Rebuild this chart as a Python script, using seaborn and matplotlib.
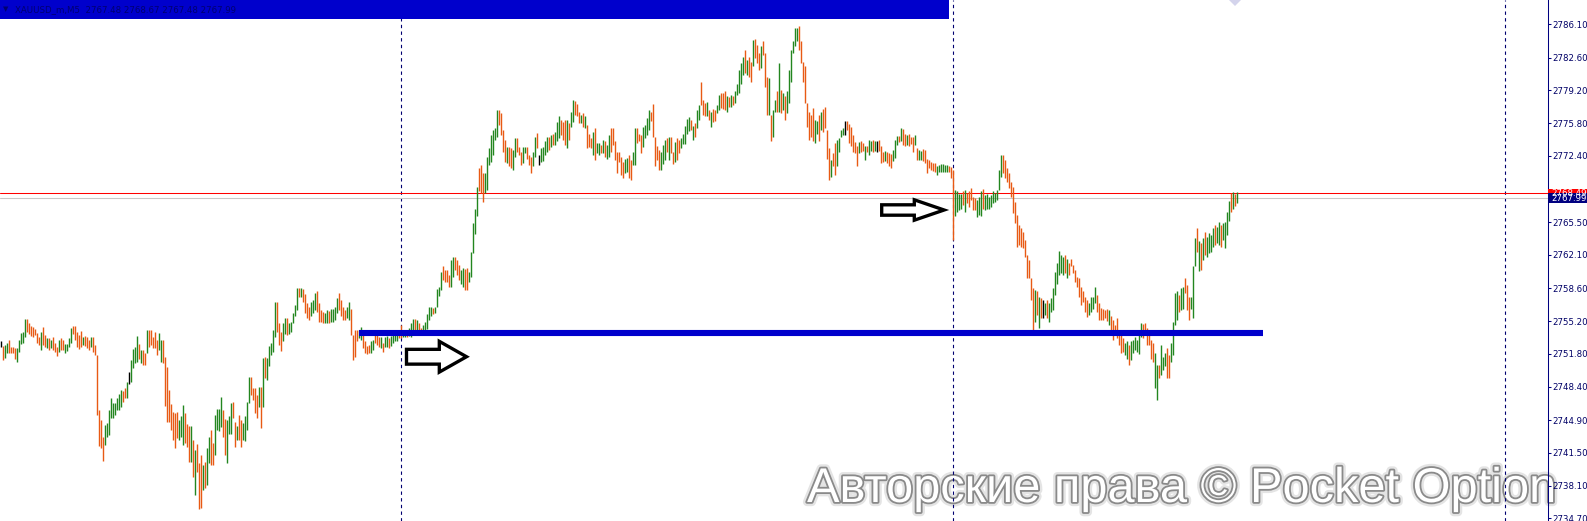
import matplotlib
matplotlib.use("Agg")
import matplotlib.pyplot as plt
import matplotlib.patches as mpatches
import matplotlib.patheffects as pe
import matplotlib.transforms as mtransforms
import numpy as np
import seaborn as sns

# ----------------------
# Chart data: XAUUSD_m, M5 bars (high / low / direction)
# ----------------------
symbol_info = "XAUUSD_m,M5  2767.48 2768.67 2767.48 2767.99"
bid_price = 2767.99
ask_price = 2768.49
support_level = 2753.95
support_from, support_to = 179, 631
separator_bars = [200, 476, 752]

tick_values = [2786.10, 2782.60, 2779.20, 2775.80, 2772.40, 2765.50, 2762.10,
               2758.60, 2755.20, 2751.80, 2748.40, 2744.90, 2741.50, 2738.10, 2734.70]
tick_labels = [f"{v:.2f}" for v in tick_values]

bar_high = [
    2753.1, 2752.6, 2752.7, 2752.9, 2753.2, 2752.5, 2752.5, 2752.4, 2752.4, 2753.2,
    2754.0, 2754.1, 2755.4, 2755.4, 2755.0, 2754.7, 2754.6, 2754.4, 2754.0, 2753.6,
    2754.1, 2754.6, 2753.8, 2753.4, 2753.4, 2753.2, 2753.6, 2752.9, 2752.5, 2753.2,
    2753.4, 2753.2, 2752.8, 2752.8, 2753.5, 2754.5, 2754.7, 2754.7, 2754.1, 2753.8,
    2754.2, 2753.6, 2753.7, 2753.6, 2753.2, 2753.6, 2753.6, 2752.7, 2751.7, 2746.0,
    2744.9, 2743.2, 2744.4, 2744.6, 2746.0, 2747.2, 2746.7, 2746.7, 2747.2, 2747.6,
    2748.0, 2747.9, 2748.2, 2748.9, 2749.9, 2751.2, 2752.3, 2752.5, 2753.7, 2752.8,
    2752.2, 2752.2, 2751.9, 2754.3, 2754.3, 2754.3, 2753.6, 2754.1, 2753.2, 2754.0,
    2753.2, 2753.2, 2751.5, 2750.4, 2748.0, 2746.6, 2745.8, 2745.7, 2745.8, 2744.9,
    2745.3, 2746.5, 2745.7, 2744.5, 2744.3, 2744.3, 2742.8, 2741.8, 2742.4, 2740.5,
    2741.3, 2740.2, 2740.6, 2742.0, 2743.2, 2743.9, 2742.5, 2745.4, 2746.1, 2746.1,
    2747.3, 2746.0, 2745.0, 2744.9, 2745.3, 2746.7, 2746.8, 2744.7, 2744.3, 2745.4,
    2744.9, 2744.6, 2745.3, 2746.8, 2749.4, 2749.4, 2748.3, 2748.2, 2747.5, 2748.4,
    2748.4, 2751.4, 2751.5, 2751.4, 2752.6, 2752.9, 2754.3, 2757.2, 2757.2, 2755.0,
    2754.1, 2755.0, 2755.5, 2755.5, 2755.0, 2755.1, 2756.1, 2756.9, 2758.7, 2758.7,
    2758.6, 2758.5, 2758.0,
    2757.1, 2756.7, 2757.2, 2757.4, 2758.1, 2758.3, 2757.1, 2756.4, 2756.2, 2756.1,
    2756.4, 2756.3, 2756.5, 2756.5, 2756.7, 2757.6, 2758.1, 2757.4, 2756.7, 2756.4,
    2756.7, 2757.2, 2756.5, 2753.8, 2754.3, 2754.3, 2754.3, 2754.6, 2754.3, 2753.1,
    2752.6, 2752.7, 2753.1, 2753.2, 2754.0, 2753.8, 2753.6, 2753.6, 2752.9, 2753.6,
    2753.7, 2753.4, 2753.7, 2753.9, 2754.1, 2754.3, 2754.3, 2754.8, 2754.1, 2754.3,
    2754.3, 2754.5, 2755.0, 2755.4, 2755.4, 2755.3, 2755.0, 2754.5, 2754.8, 2755.1,
    2755.9, 2756.7, 2756.7, 2756.6, 2756.7, 2758.5, 2758.8, 2760.3, 2760.9, 2760.5,
    2760.5, 2760.0, 2761.6, 2761.9, 2761.9, 2761.6, 2761.0, 2760.5, 2760.7, 2760.6,
    2760.7, 2760.3, 2762.4, 2765.4, 2766.9, 2769.2, 2771.1, 2771.4, 2770.6, 2770.6,
    2772.3, 2773.2, 2774.6, 2775.1, 2775.3, 2777.2, 2777.2, 2776.8, 2775.1, 2774.0,
    2773.3, 2773.3, 2773.2, 2773.0, 2774.2, 2774.2, 2773.3, 2772.8, 2773.3, 2773.3,
    2773.3, 2772.5, 2772.3, 2772.8, 2774.4, 2774.8, 2772.5, 2773.2, 2773.3, 2773.9,
    2774.4, 2774.4, 2774.6, 2774.7, 2774.9, 2775.9, 2776.5, 2776.1, 2775.9, 2776.1,
    2776.1, 2775.8, 2777.0, 2778.2, 2778.1, 2777.8, 2777.0, 2776.6, 2776.8, 2776.5,
    2775.6, 2774.7, 2774.2, 2774.9, 2775.3, 2773.7, 2773.7, 2773.5, 2774.0, 2773.9,
    2773.5,
    2774.6, 2775.3, 2775.3, 2773.9, 2772.8, 2772.8, 2772.3, 2771.8, 2772.1, 2772.2,
    2772.5, 2772.0, 2772.8, 2775.3, 2775.3, 2774.7, 2774.6, 2775.4, 2775.6, 2776.3,
    2777.2, 2777.0, 2777.8, 2774.4, 2773.4, 2773.0, 2772.8, 2773.5, 2774.0, 2774.3,
    2774.4, 2774.4, 2772.8, 2773.8, 2774.3, 2774.0, 2774.2, 2774.7, 2775.5, 2776.2,
    2776.4, 2776.1, 2775.5, 2775.8, 2777.2, 2777.7, 2780.1, 2778.2, 2777.9, 2778.0,
    2777.2, 2777.0, 2777.3, 2777.2, 2777.7, 2778.7, 2778.9, 2778.9, 2779.1, 2778.6,
    2778.5, 2778.7, 2778.6, 2779.1, 2779.9, 2781.3, 2782.1, 2782.7, 2783.4, 2782.4,
    2782.7, 2782.2, 2784.4, 2784.5, 2783.9, 2783.1, 2783.8, 2784.3, 2783.1, 2780.6,
    2780.5, 2776.6, 2777.2, 2778.2, 2779.1, 2782.1, 2779.2, 2778.9, 2778.6, 2779.1,
    2781.3, 2783.4, 2784.3, 2785.7, 2785.7, 2785.9, 2784.3, 2782.2, 2781.7, 2777.9,
    2777.0, 2776.6, 2777.4, 2776.1, 2776.0, 2776.6, 2777.0, 2777.3, 2777.5, 2775.1,
    2773.2, 2772.0, 2772.7, 2773.7, 2774.0, 2774.2, 2775.1, 2775.3, 2776.0, 2776.0,
    2775.7, 2775.4, 2774.6, 2773.8, 2773.4, 2773.8, 2773.9, 2773.7, 2773.4, 2773.4,
    2774.0, 2773.9, 2774.0, 2773.9, 2773.9, 2774.0, 2773.4, 2772.8, 2772.9, 2772.8,
    2772.7, 2772.6, 2773.0, 2774.0, 2774.5, 2774.5, 2775.3, 2775.2, 2774.7, 2774.6,
    2774.7, 2774.4, 2774.4, 2774.6,
    2773.2, 2773.0, 2772.9, 2773.1, 2773.0, 2772.1, 2772.0, 2771.8, 2771.6, 2771.6,
    2771.3, 2771.4, 2771.5, 2771.5, 2771.4, 2771.4, 2771.3, 2771.2, 2770.9, 2768.8,
    2768.7, 2768.4, 2768.4, 2768.7, 2768.8, 2768.5, 2768.7, 2769.0, 2768.1, 2768.0,
    2767.8, 2768.1, 2768.7, 2768.9, 2768.3, 2768.4, 2768.1, 2768.3, 2768.7, 2768.5,
    2768.8, 2770.9, 2772.5, 2772.5, 2772.0, 2771.1, 2770.6, 2769.7, 2769.2, 2767.6,
    2766.2, 2765.2, 2764.9, 2764.5, 2763.6, 2762.1, 2761.6, 2759.7, 2758.6, 2758.4,
    2758.3, 2757.7, 2757.6, 2757.4, 2757.1, 2757.4, 2757.1, 2757.6, 2758.7, 2760.3,
    2761.2, 2762.5, 2762.1, 2761.9, 2762.1, 2761.7, 2761.2, 2761.7, 2761.0, 2760.5,
    2759.8, 2759.7, 2758.8, 2758.3, 2757.7, 2757.4, 2757.1, 2757.7, 2757.7, 2758.8,
    2757.9, 2757.1, 2756.6, 2756.5, 2756.4, 2756.5, 2756.4, 2755.7, 2755.3, 2754.8,
    2755.5, 2754.3, 2753.8, 2753.4, 2752.9, 2753.1, 2752.7, 2753.1, 2753.2, 2753.6,
    2753.2, 2753.8, 2755.0, 2754.9, 2755.0, 2754.5, 2753.8, 2753.2, 2752.9, 2751.9,
    2750.6, 2750.6, 2752.7, 2751.5, 2751.9, 2752.4, 2751.7, 2752.9, 2755.1, 2758.1,
    2758.3, 2757.9, 2758.6, 2758.8, 2759.7, 2759.0, 2757.7, 2757.7, 2760.9, 2763.8,
    2764.9, 2763.5, 2763.3, 2763.8, 2764.5, 2764.0, 2764.4, 2764.2, 2764.9, 2765.2,
    2765.0, 2765.5, 2765.2, 2765.4, 2765.5, 2766.6, 2767.7, 2768.5, 2768.6, 2768.4,
    2768.67,
]

bar_low = [
    2752.5, 2751.2, 2751.4, 2751.9, 2751.9, 2751.9, 2751.9, 2751.3, 2751.0, 2752.0,
    2752.8, 2752.9, 2753.6, 2754.1, 2753.9, 2753.7, 2753.6, 2753.8, 2752.9, 2752.7,
    2752.2, 2752.7, 2752.5, 2752.4, 2752.2, 2752.4, 2752.2, 2752.0, 2751.6, 2752.0,
    2752.2, 2752.2, 2751.9, 2752.1, 2752.5, 2752.9, 2753.9, 2753.2, 2752.5, 2752.3,
    2752.5, 2752.7, 2752.6, 2752.4, 2752.2, 2752.5, 2752.0, 2751.7, 2745.4, 2742.2,
    2742.0, 2740.7, 2742.3, 2743.2, 2743.4, 2745.1, 2745.1, 2745.4, 2746.0, 2746.0,
    2746.3, 2746.8, 2747.2, 2747.2, 2748.7, 2748.9, 2750.3, 2750.8, 2751.0, 2751.3,
    2750.9, 2750.6, 2750.6, 2751.9, 2752.5, 2752.7, 2752.4, 2752.4, 2751.7, 2752.2,
    2751.0, 2750.8, 2746.4, 2744.7, 2744.7, 2743.9, 2742.8, 2742.0, 2743.0, 2742.8,
    2743.2, 2742.3, 2742.5, 2742.1, 2740.6, 2740.6, 2739.0, 2737.1, 2739.5, 2735.7,
    2735.8, 2737.6, 2737.9, 2738.2, 2740.5, 2740.2, 2740.2, 2741.3, 2743.9, 2743.8,
    2744.2, 2743.2, 2741.3, 2740.4, 2743.5, 2743.5, 2745.1, 2742.1, 2742.8, 2742.8,
    2742.1, 2742.8, 2742.7, 2743.9, 2746.7, 2747.5, 2747.0, 2745.6, 2745.1, 2746.3,
    2744.1, 2746.3, 2749.3, 2749.1, 2750.5, 2751.7, 2752.0, 2753.6, 2754.1, 2752.7,
    2752.1, 2753.1, 2753.9, 2753.8, 2753.9, 2754.1, 2755.0, 2755.7, 2756.4, 2757.7,
    2757.7, 2757.2, 2756.0,
    2755.5, 2755.3, 2755.7, 2756.0, 2756.4, 2756.2, 2755.1, 2755.1, 2755.0, 2755.0,
    2755.0, 2755.0, 2755.1, 2755.1, 2755.3, 2756.0, 2756.4, 2755.7, 2755.3, 2755.3,
    2755.5, 2755.3, 2753.8, 2751.2, 2751.5, 2753.1, 2753.4, 2753.2, 2752.4, 2751.9,
    2751.8, 2751.9, 2751.9, 2752.2, 2752.9, 2752.7, 2752.5, 2752.4, 2752.0, 2752.5,
    2752.5, 2752.4, 2752.6, 2752.9, 2753.1, 2753.1, 2753.4, 2753.4, 2753.6, 2753.6,
    2753.6, 2753.7, 2753.6, 2754.1, 2754.3, 2754.1, 2753.8, 2753.9, 2754.1, 2754.1,
    2754.4, 2755.3, 2755.7, 2755.9, 2756.0, 2756.7, 2757.8, 2758.4, 2759.5, 2759.3,
    2759.3, 2758.8, 2758.8, 2759.8, 2760.5, 2760.0, 2759.5, 2759.1, 2758.8, 2758.4,
    2758.4, 2759.3, 2759.8, 2762.3, 2764.3, 2766.1, 2768.7, 2768.5, 2767.6, 2768.5,
    2768.8, 2771.4, 2771.8, 2772.5, 2774.0, 2774.4, 2775.6, 2774.6, 2772.8, 2771.8,
    2771.6, 2771.3, 2771.1, 2770.9, 2772.3, 2772.8, 2772.5, 2771.4, 2771.6, 2772.7,
    2772.1, 2771.4, 2770.6, 2771.3, 2772.3, 2773.2, 2771.4, 2771.8, 2771.9, 2772.5,
    2772.8, 2773.0, 2773.3, 2773.5, 2773.5, 2773.9, 2774.2, 2774.6, 2774.0, 2773.5,
    2773.2, 2774.0, 2775.4, 2775.9, 2776.6, 2776.5, 2775.8, 2775.8, 2775.4, 2775.3,
    2773.2, 2773.3, 2773.2, 2772.5, 2772.0, 2772.7, 2772.5, 2772.7, 2772.7, 2772.3,
    2772.1,
    2772.3, 2772.8, 2773.5, 2772.0, 2770.6, 2771.8, 2770.4, 2770.1, 2770.6, 2770.7,
    2770.1, 2769.9, 2771.4, 2771.4, 2773.7, 2773.9, 2772.7, 2773.3, 2774.2, 2774.6,
    2775.1, 2776.0, 2774.4, 2771.3, 2772.0, 2770.9, 2770.9, 2771.5, 2772.0, 2772.8,
    2772.0, 2772.7, 2771.5, 2771.8, 2772.0, 2772.7, 2773.2, 2773.6, 2773.6, 2774.7,
    2775.0, 2775.1, 2774.0, 2774.4, 2775.3, 2776.1, 2777.7, 2776.6, 2776.5, 2776.5,
    2776.1, 2775.4, 2775.9, 2776.0, 2776.8, 2777.2, 2777.4, 2777.3, 2777.2, 2777.0,
    2777.5, 2777.5, 2777.7, 2777.9, 2778.7, 2778.9, 2779.9, 2780.8, 2781.0, 2780.8,
    2780.6, 2780.1, 2781.7, 2782.6, 2782.0, 2781.3, 2781.5, 2782.9, 2779.6, 2776.6,
    2776.6, 2773.9, 2774.4, 2777.0, 2777.0, 2777.0, 2776.8, 2777.2, 2776.1, 2776.8,
    2777.9, 2780.1, 2783.1, 2783.8, 2784.3, 2783.4, 2782.0, 2780.1, 2777.9, 2775.4,
    2774.0, 2774.4, 2773.9, 2773.7, 2774.7, 2773.9, 2775.1, 2774.9, 2775.3, 2772.1,
    2769.9, 2770.2, 2771.3, 2770.4, 2771.3, 2772.8, 2774.4, 2774.6, 2774.6, 2775.1,
    2773.7, 2773.4, 2772.8, 2772.7, 2771.3, 2772.7, 2772.8, 2772.9, 2772.0, 2772.8,
    2772.5, 2772.9, 2772.8, 2772.9, 2772.8, 2772.9, 2771.6, 2771.8, 2771.9, 2771.6,
    2771.3, 2771.1, 2771.9, 2772.2, 2773.5, 2773.8, 2773.9, 2773.5, 2773.4, 2773.5,
    2773.4, 2773.6, 2772.8, 2773.5,
    2772.0, 2772.0, 2772.0, 2771.9, 2771.6, 2770.6, 2771.1, 2770.9, 2770.8, 2770.7,
    2770.4, 2770.7, 2770.7, 2770.7, 2770.7, 2770.7, 2770.7, 2770.1, 2763.6, 2766.1,
    2766.6, 2766.8, 2766.9, 2767.3, 2766.6, 2767.5, 2767.1, 2767.8, 2766.8, 2766.8,
    2766.0, 2766.2, 2766.1, 2766.9, 2766.8, 2766.9, 2766.9, 2767.1, 2767.5, 2767.6,
    2767.8, 2768.8, 2770.2, 2770.6, 2770.1, 2769.7, 2769.0, 2768.1, 2766.4, 2765.4,
    2762.9, 2763.1, 2762.9, 2762.8, 2761.9, 2759.7, 2759.7, 2757.4, 2753.8, 2755.1,
    2755.8, 2754.5, 2755.5, 2755.5, 2755.8, 2755.5, 2755.1, 2756.2, 2756.4, 2757.9,
    2759.1, 2760.0, 2760.2, 2760.0, 2760.2, 2759.7, 2760.0, 2760.9, 2760.2, 2759.3,
    2758.8, 2757.7, 2756.9, 2757.2, 2756.2, 2755.6, 2755.8, 2756.2, 2756.5, 2757.1,
    2756.2, 2755.3, 2755.3, 2755.3, 2755.5, 2755.2, 2754.8, 2754.1, 2753.2, 2753.9,
    2753.5, 2752.7, 2751.9, 2752.0, 2751.7, 2751.3, 2750.6, 2751.2, 2751.9, 2752.2,
    2752.0, 2751.8, 2753.6, 2753.4, 2753.9, 2752.7, 2752.7, 2751.3, 2751.0, 2748.2,
    2747.0, 2749.3, 2749.6, 2750.1, 2750.5, 2749.3, 2749.3, 2751.0, 2751.7, 2754.8,
    2755.3, 2756.2, 2756.4, 2756.5, 2758.1, 2756.4, 2755.3, 2756.5, 2755.5, 2760.9,
    2762.4, 2760.4, 2760.5, 2761.6, 2762.1, 2761.9, 2762.3, 2762.4, 2762.9, 2763.1,
    2763.3, 2763.1, 2762.9, 2763.6, 2762.8, 2764.2, 2765.6, 2766.6, 2766.9, 2767.2,
    2767.48,
]

# u = bull bar, d = bear bar, n = open equals close
bar_dir = "".join("""
nduudddduu uuuddddddd uddududddu dduuuudddd dudddudddd dduuuuuuuu uddunuuuud
uddudddddu uddddddddu uudddududd duduudduuu udduuuddud duuuuddddu duduuuuudd
duuduuuuud udd
dduuuddddu uduuuudddd uudddduudd dduudddudu uduuuudduu duuududduu uuuduuuudd
dduuddduud duuuuudddu uuuuuudddd udduuddduu ddduudnuuu ududuuuddd uduudddudu
ddduduudud u
uddddddduu dduuddduuu uddddduuud uddudduuuu ududuudddu dudduudddu duduuuuudu
dduddduddd uduudududu uuuuuddddd ddduududdd dudduuuund ddddduddud uudundddud
dduuududdu dddu
duuddddddd uuuuuudddu uuududdddd uuuduuuuuu uuuddddddd dddddddddu dudnuduuuu
uuuududddd dddddduuuu dddddduddd dddduuduuu uuuddddddu uduuudduuu uduuddduuu
dududuuuud uuduuuudud u
""".split())

arrow_tails = [(203.0, 2751.50), (440.6, 2766.76)]
arrow_lengths = [30.0, 31.2]
arrow_shafts = [1.54, 1.08]
arrow_heads = [3.20, 2.12]
arrow_head_lengths = [13.6, 14.9]

# ----------------------
# Figure setup
# ----------------------
sns.set_style("white")
plt.rcParams["font.family"] = ["DejaVu Sans"]

W, H = 1587, 521
AX_RIGHT = 1547.5
fig = plt.figure(figsize=(W / 100, H / 100), dpi=100)
ax = fig.add_axes([0, 0, AX_RIGHT / W, 1])

n_bars = min(len(bar_high), len(bar_low), len(bar_dir))
idx = np.arange(n_bars)
palette = {"u": "#23861f", "d": "#e85a14", "n": "#000000"}
colors = [palette[d] for d in bar_dir[:n_bars]]
ax.vlines(idx, bar_low[:n_bars], bar_high[:n_bars], colors=colors, linewidth=1.0, zorder=3)

# period separators, bid/ask, support line
for b in separator_bars:
    ax.axvline(b, color="#000070", linewidth=0.8, linestyle=(0, (3, 3)), zorder=2)
ax.axhline(bid_price, color="#c8c8c8", linewidth=0.75, zorder=2)
ax.axhline(ask_price, color="#ff0000", linewidth=0.75, zorder=2)
ax.hlines(support_level, support_from, support_to, color="#0000cc", linewidth=4.4, zorder=4)

# hollow arrows
for (x0, y0), length, shaft, head, hl in zip(arrow_tails, arrow_lengths, arrow_shafts,
                                          arrow_heads, arrow_head_lengths):
    arr = mpatches.FancyArrow(x0, y0, length, 0, width=shaft, head_width=head, head_length=hl,
                              length_includes_head=True, facecolor="white", edgecolor="black",
                              linewidth=2.4, joinstyle="miter", zorder=5)
    ax.add_patch(arr)

ax.set_xlim(-0.25, -0.25 + AX_RIGHT / 2)
ax.set_ylim(2734.416, 2788.60)

# right price scale
ax.yaxis.tick_right()
ax.set_yticks(tick_values)
ax.set_yticklabels(tick_labels)
ax.set_xticks([])
ax.tick_params(axis="y", length=2.2, width=0.75, color="#000080", labelcolor="#000066",
               labelsize=6.2, pad=1.2)
for side in ["left", "top", "bottom"]:
    ax.spines[side].set_visible(False)
ax.spines["right"].set_color("#000080")
ax.spines["right"].set_linewidth(0.75)

# price labels on the scale
trans = mtransforms.blended_transform_factory(ax.transAxes, ax.transData)
box_w = (W - AX_RIGHT) / AX_RIGHT
for price, face in [(ask_price, "#ff0000"), (bid_price, "#000080")]:
    ax.add_patch(mpatches.Rectangle((1.0005, price - 0.5), box_w, 1.0, transform=trans,
                                    facecolor=face, edgecolor="none", clip_on=False, zorder=6))
    ax.text(1.0 + 4.0 / AX_RIGHT, price, f"{price:.2f}", transform=trans, color="white",
            fontsize=6.2, va="center", ha="left", zorder=7, clip_on=False)

# watermark
wm = ax.text(807 / AX_RIGHT, (H - 502) / H, "Авторские права © Pocket Option",
             transform=ax.transAxes, fontsize=35.1, family="Liberation Sans", color="white",
             va="baseline", ha="left", zorder=0.5, clip_on=False)
wm.set_path_effects([pe.Stroke(linewidth=6, foreground="#e4e4e4"),
                     pe.Stroke(linewidth=2.6, foreground="#8a8a8a"), pe.Normal()])

# symbol banner
fig.add_artist(mpatches.Rectangle((0, 1 - 19 / H), 949 / W, 19 / H, transform=fig.transFigure,
                                  facecolor="#0000cc", edgecolor="none", zorder=5))
fig.text(3 / W, 1 - 9.5 / H, "▼", fontsize=5, color="#000070", va="center", zorder=6)
fig.text(15 / W, 1 - 9.5 / H, symbol_info, fontsize=6.2, color="#000070", va="center", zorder=6)

# chart shift marker
fig.add_artist(mpatches.Polygon([(1229 / W, 1.0), (1241 / W, 1.0), (1235 / W, 1 - 6 / H)],
                                closed=True, transform=fig.transFigure, facecolor="#d4d4ec",
                                edgecolor="none", zorder=5))

plt.savefig("out.png", dpi=100)
